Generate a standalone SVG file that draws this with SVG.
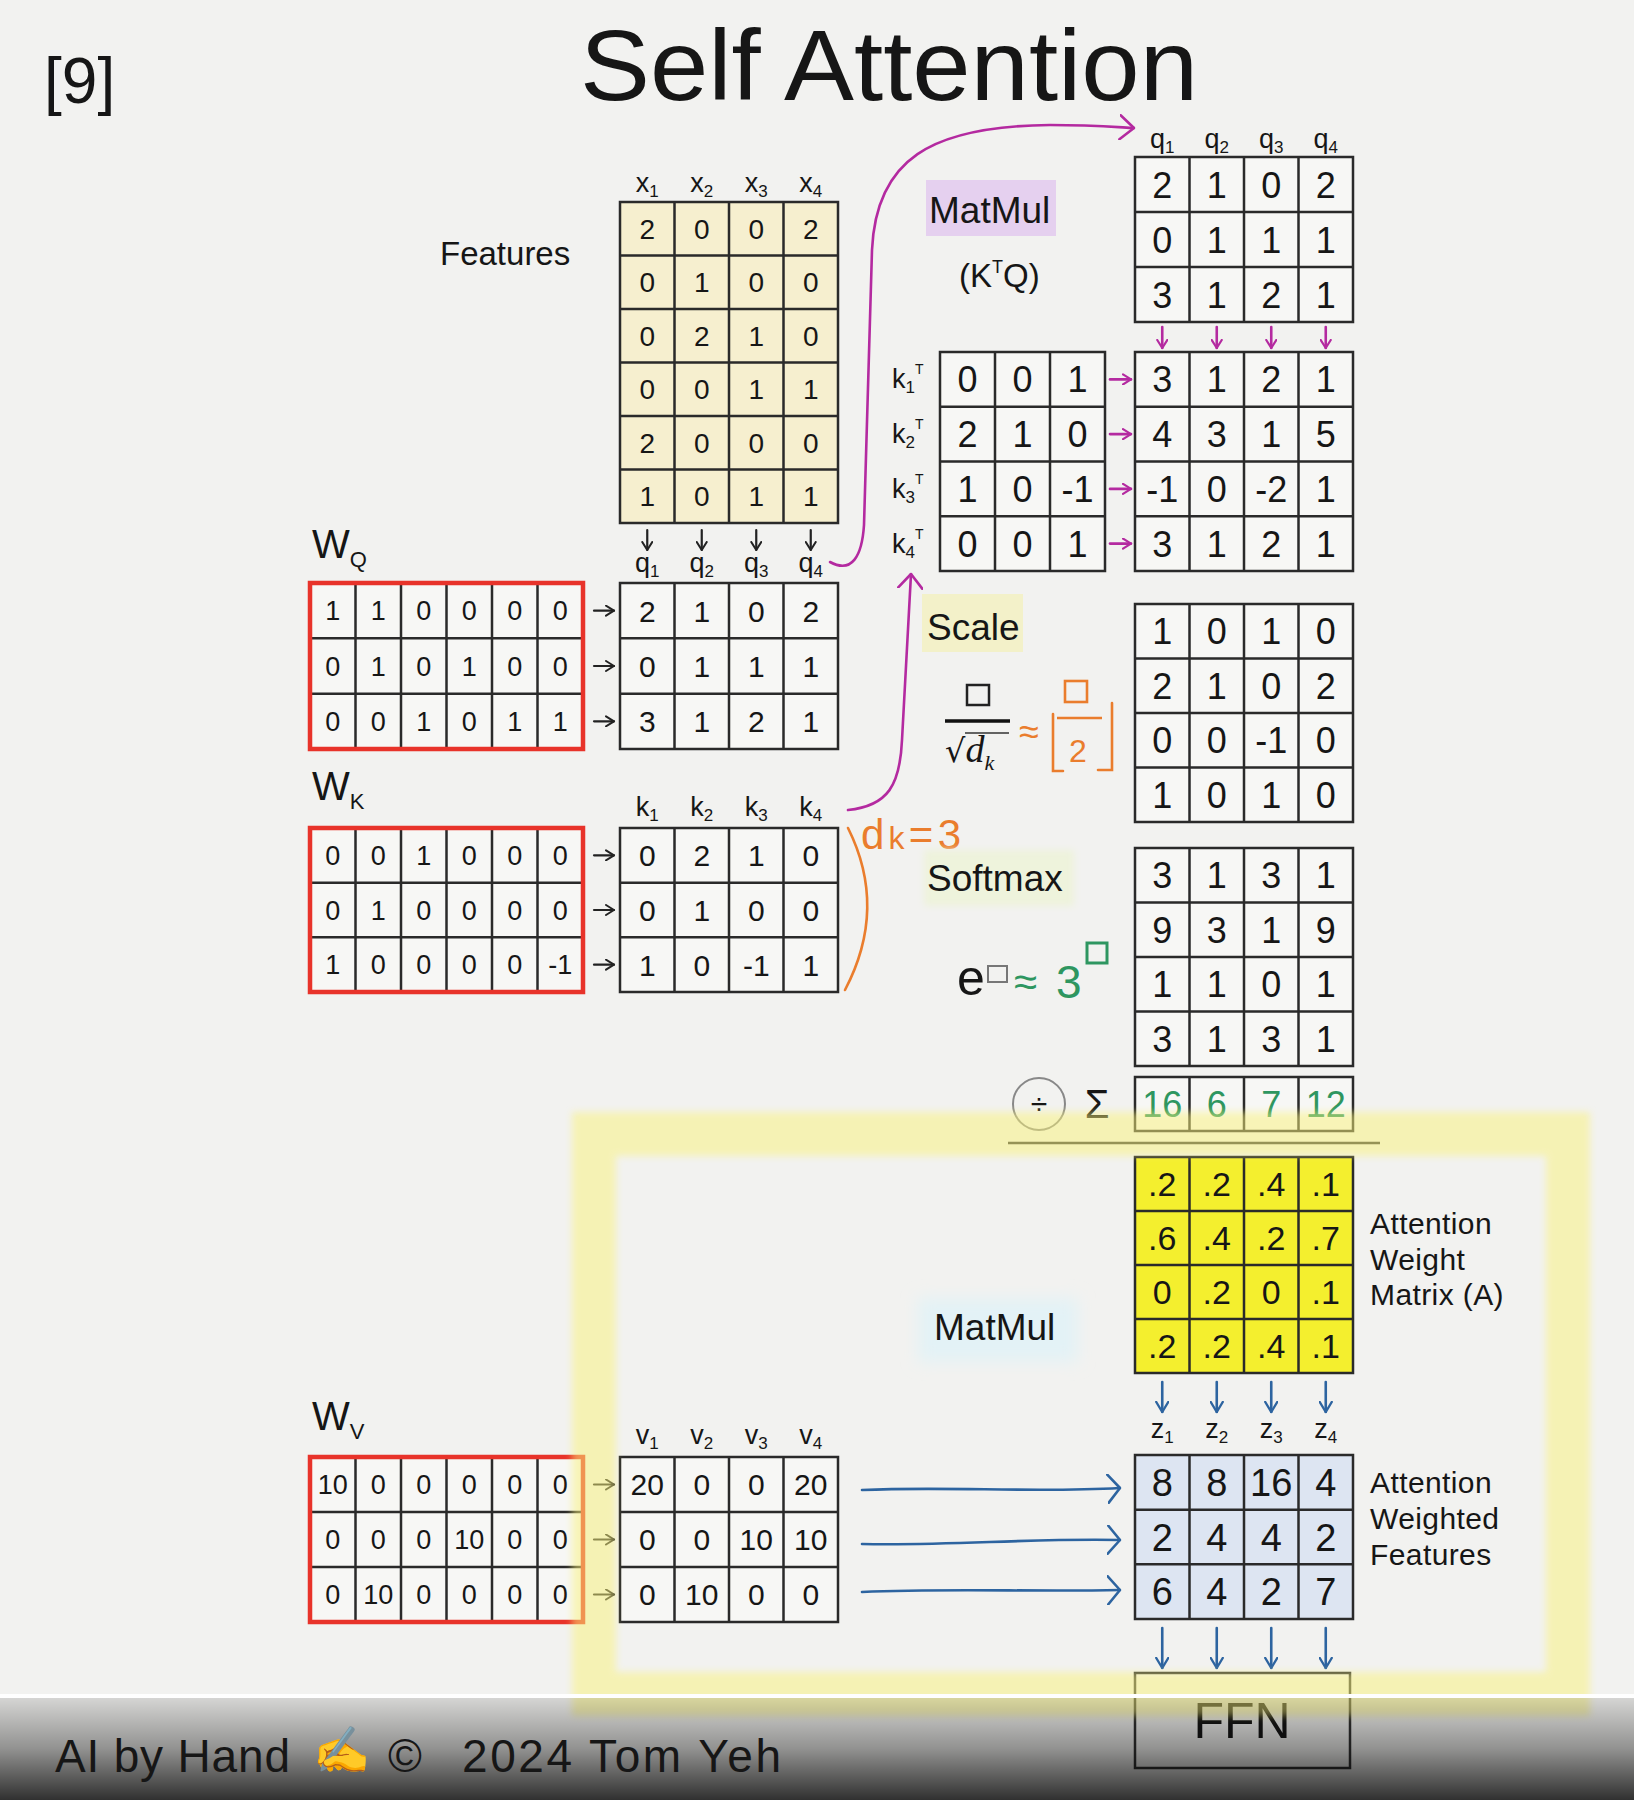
<svg xmlns="http://www.w3.org/2000/svg" width="1634" height="1800" viewBox="0 0 1634 1800">
<defs>
<style>
text{font-family:"Liberation Sans",Arial,sans-serif;fill:#161616}
.n{text-anchor:middle}
.grid{fill:none;stroke:#2a2a2a;stroke-width:2.5}
.red{fill:none;stroke:#e8332a;stroke-width:4.5}
.wcell{fill:#f7f7f5}
.p{fill:#b42aa0}.o{fill:#ea7d2d}.g{fill:#2e9660}.b{fill:#2a5a8c}
.ck{fill:none;stroke:#222;stroke-width:2.2;stroke-linecap:round}
.cp{fill:none;stroke:#b42aa0;stroke-width:2.6;stroke-linecap:round}
.cb{fill:none;stroke:#2d64a0;stroke-width:2.6;stroke-linecap:round}
.co{fill:none;stroke:#ea7d2d;stroke-width:2.6;stroke-linecap:round}
.lbl{font-size:30px;letter-spacing:0.4px}
</style>
<marker id="hk" viewBox="0 0 10 12" refX="9" refY="6" markerWidth="10" markerHeight="12" markerUnits="userSpaceOnUse" orient="auto"><path d="M1 1L9 6L1 11" fill="none" stroke="#222" stroke-width="2" stroke-linecap="round" stroke-linejoin="round"/></marker>
<marker id="hp" viewBox="0 0 10 12" refX="9" refY="6" markerWidth="10" markerHeight="12" markerUnits="userSpaceOnUse" orient="auto"><path d="M1 1L9 6L1 11" fill="none" stroke="#b42aa0" stroke-width="2.2" stroke-linecap="round" stroke-linejoin="round"/></marker>
<marker id="hpl" viewBox="0 0 16 26" refX="15" refY="13" markerWidth="16" markerHeight="26" markerUnits="userSpaceOnUse" orient="auto"><path d="M1 1L15 13L1 25" fill="none" stroke="#b42aa0" stroke-width="2.6" stroke-linecap="round" stroke-linejoin="round"/></marker>
<marker id="hb" viewBox="0 0 12 14" refX="11" refY="7" markerWidth="12" markerHeight="14" markerUnits="userSpaceOnUse" orient="auto"><path d="M1 1L11 7L1 13" fill="none" stroke="#2d64a0" stroke-width="2.4" stroke-linecap="round" stroke-linejoin="round"/></marker>
<marker id="hbl" viewBox="0 0 14 30" refX="13" refY="15" markerWidth="14" markerHeight="30" markerUnits="userSpaceOnUse" orient="auto"><path d="M1 1L13 15L1 29" fill="none" stroke="#2d64a0" stroke-width="2.6" stroke-linecap="round" stroke-linejoin="round"/></marker>
<filter id="soft" x="-10%" y="-10%" width="120%" height="120%"><feGaussianBlur stdDeviation="3.5"/></filter>
<filter id="softer" x="-30%" y="-30%" width="160%" height="160%"><feGaussianBlur stdDeviation="8"/></filter>
<linearGradient id="bar" x1="0" y1="0" x2="0" y2="1">
<stop offset="0" stop-color="#000" stop-opacity="0.12"/>
<stop offset="0.5" stop-color="#000" stop-opacity="0.4"/>
<stop offset="1" stop-color="#000" stop-opacity="0.8"/>
</linearGradient>
</defs>

<rect width="1634" height="1800" fill="#f2f2f0"/>

<g id="title">
<text x="889" y="100" class="n" font-size="100" textLength="618" lengthAdjust="spacingAndGlyphs">Self Attention</text>
<text x="44" y="103" font-size="64">[9]</text>
</g>

<!-- Features -->
<g id="features">
<text x="440" y="265" font-size="33">Features</text>
<rect x="620" y="202" width="218" height="321" fill="#f6efcf"/>
<path class="grid" d="M620 202h218v321h-218zM674.5 202V523M729 202V523M783.5 202V523M620 255.5H838M620 309H838M620 362.5H838M620 416H838M620 469.5H838"/>
<g class="n" font-size="28">
<text y="238.75"><tspan x="647.25">2</tspan><tspan x="701.75">0</tspan><tspan x="756.25">0</tspan><tspan x="810.75">2</tspan></text>
<text y="292.25"><tspan x="647.25">0</tspan><tspan x="701.75">1</tspan><tspan x="756.25">0</tspan><tspan x="810.75">0</tspan></text>
<text y="345.75"><tspan x="647.25">0</tspan><tspan x="701.75">2</tspan><tspan x="756.25">1</tspan><tspan x="810.75">0</tspan></text>
<text y="399.25"><tspan x="647.25">0</tspan><tspan x="701.75">0</tspan><tspan x="756.25">1</tspan><tspan x="810.75">1</tspan></text>
<text y="452.75"><tspan x="647.25">2</tspan><tspan x="701.75">0</tspan><tspan x="756.25">0</tspan><tspan x="810.75">0</tspan></text>
<text y="506.25"><tspan x="647.25">1</tspan><tspan x="701.75">0</tspan><tspan x="756.25">1</tspan><tspan x="810.75">1</tspan></text>
</g>
<g class="n" font-size="27">
<text x="647.25" y="192">x<tspan font-size="17" dy="5">1</tspan></text>
<text x="701.75" y="192">x<tspan font-size="17" dy="5">2</tspan></text>
<text x="756.25" y="192">x<tspan font-size="17" dy="5">3</tspan></text>
<text x="810.75" y="192">x<tspan font-size="17" dy="5">4</tspan></text>
</g>
</g>

<!-- W_Q -->
<g id="wq">
<text x="312" y="558" font-size="40">W<tspan font-size="22" dy="9">Q</tspan></text>
<rect class="wcell" x="310" y="583" width="273" height="166"/>
<path class="grid" d="M355.5 583V749M401 583V749M446.5 583V749M492 583V749M537.5 583V749M310 638.3H583M310 693.7H583"/>
<rect class="red" x="310" y="583" width="273" height="166"/>
<g class="n" font-size="27">
<text y="620.4"><tspan x="332.75">1</tspan><tspan x="378.25">1</tspan><tspan x="423.75">0</tspan><tspan x="469.25">0</tspan><tspan x="514.75">0</tspan><tspan x="560.25">0</tspan></text>
<text y="675.7"><tspan x="332.75">0</tspan><tspan x="378.25">1</tspan><tspan x="423.75">0</tspan><tspan x="469.25">1</tspan><tspan x="514.75">0</tspan><tspan x="560.25">0</tspan></text>
<text y="731"><tspan x="332.75">0</tspan><tspan x="378.25">0</tspan><tspan x="423.75">1</tspan><tspan x="469.25">0</tspan><tspan x="514.75">1</tspan><tspan x="560.25">1</tspan></text>
</g>
</g>

<!-- Q -->
<g id="q">
<rect class="wcell" x="620" y="583" width="218" height="166"/>
<path class="grid" d="M620 583h218v166h-218zM674.5 583V749M729 583V749M783.5 583V749M620 638.3H838M620 693.7H838"/>
<g class="n" font-size="30">
<text y="621.5"><tspan x="647.25">2</tspan><tspan x="701.75">1</tspan><tspan x="756.25">0</tspan><tspan x="810.75">2</tspan></text>
<text y="676.8"><tspan x="647.25">0</tspan><tspan x="701.75">1</tspan><tspan x="756.25">1</tspan><tspan x="810.75">1</tspan></text>
<text y="732.1"><tspan x="647.25">3</tspan><tspan x="701.75">1</tspan><tspan x="756.25">2</tspan><tspan x="810.75">1</tspan></text>
</g>
<g class="n" font-size="27">
<text x="647.25" y="572">q<tspan font-size="17" dy="5">1</tspan></text>
<text x="701.75" y="572">q<tspan font-size="17" dy="5">2</tspan></text>
<text x="756.25" y="572">q<tspan font-size="17" dy="5">3</tspan></text>
<text x="810.75" y="572">q<tspan font-size="17" dy="5">4</tspan></text>
</g>
</g>

<!-- W_K -->
<g id="wk">
<text x="312" y="800" font-size="40">W<tspan font-size="22" dy="9">K</tspan></text>
<rect class="wcell" x="310" y="828" width="273" height="164"/>
<path class="grid" d="M355.5 828V992M401 828V992M446.5 828V992M492 828V992M537.5 828V992M310 882.7H583M310 937.3H583"/>
<rect class="red" x="310" y="828" width="273" height="164"/>
<g class="n" font-size="27">
<text y="865"><tspan x="332.75">0</tspan><tspan x="378.25">0</tspan><tspan x="423.75">1</tspan><tspan x="469.25">0</tspan><tspan x="514.75">0</tspan><tspan x="560.25">0</tspan></text>
<text y="919.7"><tspan x="332.75">0</tspan><tspan x="378.25">1</tspan><tspan x="423.75">0</tspan><tspan x="469.25">0</tspan><tspan x="514.75">0</tspan><tspan x="560.25">0</tspan></text>
<text y="974.4"><tspan x="332.75">1</tspan><tspan x="378.25">0</tspan><tspan x="423.75">0</tspan><tspan x="469.25">0</tspan><tspan x="514.75">0</tspan><tspan x="560.25">-1</tspan></text>
</g>
</g>

<!-- K -->
<g id="k">
<rect class="wcell" x="620" y="828" width="218" height="164"/>
<path class="grid" d="M620 828h218v164h-218zM674.5 828V992M729 828V992M783.5 828V992M620 882.7H838M620 937.3H838"/>
<g class="n" font-size="30">
<text y="866.1"><tspan x="647.25">0</tspan><tspan x="701.75">2</tspan><tspan x="756.25">1</tspan><tspan x="810.75">0</tspan></text>
<text y="920.8"><tspan x="647.25">0</tspan><tspan x="701.75">1</tspan><tspan x="756.25">0</tspan><tspan x="810.75">0</tspan></text>
<text y="975.5"><tspan x="647.25">1</tspan><tspan x="701.75">0</tspan><tspan x="756.25">-1</tspan><tspan x="810.75">1</tspan></text>
</g>
<g class="n" font-size="27">
<text x="647.25" y="816">k<tspan font-size="17" dy="5">1</tspan></text>
<text x="701.75" y="816">k<tspan font-size="17" dy="5">2</tspan></text>
<text x="756.25" y="816">k<tspan font-size="17" dy="5">3</tspan></text>
<text x="810.75" y="816">k<tspan font-size="17" dy="5">4</tspan></text>
</g>
</g>

<!-- W_V -->
<g id="wv">
<text x="312" y="1430" font-size="40">W<tspan font-size="22" dy="9">V</tspan></text>
<rect class="wcell" x="310" y="1457" width="273" height="165"/>
<path class="grid" d="M355.5 1457V1622M401 1457V1622M446.5 1457V1622M492 1457V1622M537.5 1457V1622M310 1512H583M310 1567H583"/>
<rect class="red" x="310" y="1457" width="273" height="165"/>
<g class="n" font-size="27">
<text y="1494.2"><tspan x="332.75">10</tspan><tspan x="378.25">0</tspan><tspan x="423.75">0</tspan><tspan x="469.25">0</tspan><tspan x="514.75">0</tspan><tspan x="560.25">0</tspan></text>
<text y="1549.2"><tspan x="332.75">0</tspan><tspan x="378.25">0</tspan><tspan x="423.75">0</tspan><tspan x="469.25">10</tspan><tspan x="514.75">0</tspan><tspan x="560.25">0</tspan></text>
<text y="1604.2"><tspan x="332.75">0</tspan><tspan x="378.25">10</tspan><tspan x="423.75">0</tspan><tspan x="469.25">0</tspan><tspan x="514.75">0</tspan><tspan x="560.25">0</tspan></text>
</g>
</g>

<!-- V -->
<g id="v">
<rect class="wcell" x="620" y="1457" width="218" height="165"/>
<path class="grid" d="M620 1457h218v165h-218zM674.5 1457V1622M729 1457V1622M783.5 1457V1622M620 1512H838M620 1567H838"/>
<g class="n" font-size="30">
<text y="1495.3"><tspan x="647.25">20</tspan><tspan x="701.75">0</tspan><tspan x="756.25">0</tspan><tspan x="810.75">20</tspan></text>
<text y="1550.3"><tspan x="647.25">0</tspan><tspan x="701.75">0</tspan><tspan x="756.25">10</tspan><tspan x="810.75">10</tspan></text>
<text y="1605.3"><tspan x="647.25">0</tspan><tspan x="701.75">10</tspan><tspan x="756.25">0</tspan><tspan x="810.75">0</tspan></text>
</g>
<g class="n" font-size="27">
<text x="647.25" y="1444">v<tspan font-size="17" dy="5">1</tspan></text>
<text x="701.75" y="1444">v<tspan font-size="17" dy="5">2</tspan></text>
<text x="756.25" y="1444">v<tspan font-size="17" dy="5">3</tspan></text>
<text x="810.75" y="1444">v<tspan font-size="17" dy="5">4</tspan></text>
</g>
</g>

<!-- MatMul label (top) -->
<g id="matmul-top">
<rect x="926" y="180" width="130" height="56" fill="#e5d0ef"/>
<text x="929" y="223" font-size="37">MatMul</text>
<text x="959" y="287" font-size="33">(K<tspan font-size="18" dy="-14">T</tspan><tspan dy="14">Q)</tspan></text>
</g>

<!-- Q on top right -->
<g id="q-top">
<rect class="wcell" x="1135" y="157" width="218" height="165"/>
<path class="grid" d="M1135 157h218v165h-218zM1189.5 157V322M1244 157V322M1298.5 157V322M1135 212H1353M1135 267H1353"/>
<g class="n p" font-size="36">
<text y="197.5"><tspan x="1162.25">2</tspan><tspan x="1216.75">1</tspan><tspan x="1271.25">0</tspan><tspan x="1325.75">2</tspan></text>
<text y="252.5"><tspan x="1162.25">0</tspan><tspan x="1216.75">1</tspan><tspan x="1271.25">1</tspan><tspan x="1325.75">1</tspan></text>
<text y="307.5"><tspan x="1162.25">3</tspan><tspan x="1216.75">1</tspan><tspan x="1271.25">2</tspan><tspan x="1325.75">1</tspan></text>
</g>
<g class="n" font-size="27">
<text x="1162.25" y="148">q<tspan font-size="17" dy="5">1</tspan></text>
<text x="1216.75" y="148">q<tspan font-size="17" dy="5">2</tspan></text>
<text x="1271.25" y="148">q<tspan font-size="17" dy="5">3</tspan></text>
<text x="1325.75" y="148">q<tspan font-size="17" dy="5">4</tspan></text>
</g>
</g>

<!-- K transpose -->
<g id="kt">
<rect class="wcell" x="940" y="352" width="165" height="219"/>
<path class="grid" d="M940 352h165v219h-165zM995 352V571M1050 352V571M940 406.75H1105M940 461.5H1105M940 516.25H1105"/>
<g class="n p" font-size="36">
<text y="392.4"><tspan x="967.5">0</tspan><tspan x="1022.5">0</tspan><tspan x="1077.5">1</tspan></text>
<text y="447.1"><tspan x="967.5">2</tspan><tspan x="1022.5">1</tspan><tspan x="1077.5">0</tspan></text>
<text y="501.9"><tspan x="967.5">1</tspan><tspan x="1022.5">0</tspan><tspan x="1077.5">-1</tspan></text>
<text y="556.6"><tspan x="967.5">0</tspan><tspan x="1022.5">0</tspan><tspan x="1077.5">1</tspan></text>
</g>
<g font-size="27">
<text x="892" y="388">k<tspan font-size="17" dy="5">1</tspan><tspan font-size="14" dy="-19">T</tspan></text>
<text x="892" y="443">k<tspan font-size="17" dy="5">2</tspan><tspan font-size="14" dy="-19">T</tspan></text>
<text x="892" y="498">k<tspan font-size="17" dy="5">3</tspan><tspan font-size="14" dy="-19">T</tspan></text>
<text x="892" y="553">k<tspan font-size="17" dy="5">4</tspan><tspan font-size="14" dy="-19">T</tspan></text>
</g>
</g>

<!-- K^T Q -->
<g id="ktq">
<rect class="wcell" x="1135" y="352" width="218" height="219"/>
<path class="grid" d="M1135 352h218v219h-218zM1189.5 352V571M1244 352V571M1298.5 352V571M1135 406.75H1353M1135 461.5H1353M1135 516.25H1353"/>
<g class="n p" font-size="36">
<text y="392.4"><tspan x="1162.25">3</tspan><tspan x="1216.75">1</tspan><tspan x="1271.25">2</tspan><tspan x="1325.75">1</tspan></text>
<text y="447.1"><tspan x="1162.25">4</tspan><tspan x="1216.75">3</tspan><tspan x="1271.25">1</tspan><tspan x="1325.75">5</tspan></text>
<text y="501.9"><tspan x="1162.25">-1</tspan><tspan x="1216.75">0</tspan><tspan x="1271.25">-2</tspan><tspan x="1325.75">1</tspan></text>
<text y="556.6"><tspan x="1162.25">3</tspan><tspan x="1216.75">1</tspan><tspan x="1271.25">2</tspan><tspan x="1325.75">1</tspan></text>
</g>
</g>

<!-- Scale -->
<g id="scale-label">
<rect x="922" y="594" width="101" height="58" fill="#f3f1c9"/>
<text x="927" y="640" font-size="37">Scale</text>
<rect x="967" y="685" width="22" height="20" fill="none" stroke="#222" stroke-width="2.5"/>
<line x1="945" y1="721" x2="1010" y2="721" stroke="#111" stroke-width="3.5"/>
<line x1="965" y1="733" x2="1009" y2="733" stroke="#333" stroke-width="1.5"/>
<text x="945" y="762" font-size="32"><tspan font-family="DejaVu Sans">√</tspan><tspan font-family="Liberation Serif" font-style="italic" font-size="38">d</tspan><tspan font-family="Liberation Serif" font-style="italic" font-size="22" dy="8">k</tspan></text>
<text x="1019" y="744" font-size="36" class="o">≈</text>
<path class="co" d="M1053 714V771H1063"/>
<rect x="1065" y="681" width="22" height="21" fill="none" stroke="#ea7d2d" stroke-width="2.6"/>
<line x1="1057" y1="718" x2="1102" y2="718" stroke="#ea7d2d" stroke-width="2.4"/>
<text x="1078" y="762" font-size="32" class="n o">2</text>
<path class="co" d="M1112 703V770H1098"/>
</g>

<g id="scale">
<rect class="wcell" x="1135" y="604" width="218" height="218"/>
<path class="grid" d="M1135 604h218v218h-218zM1189.5 604V822M1244 604V822M1298.5 604V822M1135 658.5H1353M1135 713H1353M1135 767.5H1353"/>
<g class="n o" font-size="36">
<text y="644.25"><tspan x="1162.25">1</tspan><tspan x="1216.75">0</tspan><tspan x="1271.25">1</tspan><tspan x="1325.75">0</tspan></text>
<text y="698.75"><tspan x="1162.25">2</tspan><tspan x="1216.75">1</tspan><tspan x="1271.25">0</tspan><tspan x="1325.75">2</tspan></text>
<text y="753.25"><tspan x="1162.25">0</tspan><tspan x="1216.75">0</tspan><tspan x="1271.25">-1</tspan><tspan x="1325.75">0</tspan></text>
<text y="807.75"><tspan x="1162.25">1</tspan><tspan x="1216.75">0</tspan><tspan x="1271.25">1</tspan><tspan x="1325.75">0</tspan></text>
</g>
</g>

<!-- dk annotation -->
<g id="dk">
<path class="co" d="M848 828Q888 908 845 990"/>
<text x="861" y="849" class="o" font-size="42" textLength="100" lengthAdjust="spacing">d<tspan font-size="32">k</tspan>=3</text>
</g>

<!-- Softmax -->
<g id="softmax-label">
<rect x="924" y="850" width="150" height="56" fill="#eef3dc" filter="url(#soft)"/>
<text x="927" y="891" font-size="37">Softmax</text>
<text x="957" y="995" font-size="50">e</text>
<rect x="988" y="966" width="19" height="16" fill="none" stroke="#777" stroke-width="2"/>
<text x="1014" y="996" font-size="42" class="g">≈</text>
<text x="1056" y="998" font-size="46" class="g">3</text>
<rect x="1087" y="943" width="20" height="20" fill="none" stroke="#2e9660" stroke-width="3"/>
</g>

<g id="softmax">
<rect class="wcell" x="1135" y="848" width="218" height="218"/>
<path class="grid" d="M1135 848h218v218h-218zM1189.5 848V1066M1244 848V1066M1298.5 848V1066M1135 902.5H1353M1135 957H1353M1135 1011.5H1353"/>
<g class="n g" font-size="36">
<text y="888.25"><tspan x="1162.25">3</tspan><tspan x="1216.75">1</tspan><tspan x="1271.25">3</tspan><tspan x="1325.75">1</tspan></text>
<text y="942.75"><tspan x="1162.25">9</tspan><tspan x="1216.75">3</tspan><tspan x="1271.25">1</tspan><tspan x="1325.75">9</tspan></text>
<text y="997.25"><tspan x="1162.25">1</tspan><tspan x="1216.75">1</tspan><tspan x="1271.25">0</tspan><tspan x="1325.75">1</tspan></text>
<text y="1051.75"><tspan x="1162.25">3</tspan><tspan x="1216.75">1</tspan><tspan x="1271.25">3</tspan><tspan x="1325.75">1</tspan></text>
</g>
</g>

<!-- Sum -->
<g id="sum">
<circle cx="1039" cy="1104" r="26" fill="none" stroke="#888" stroke-width="2"/>
<text x="1039" y="1114" class="n" font-size="30" fill="#555">÷</text>
<text x="1097" y="1118" class="n" font-size="40">Σ</text>
<rect class="wcell" x="1135" y="1077" width="218" height="54"/>
<path class="grid" d="M1135 1077h218v54h-218zM1189.5 1077V1131M1244 1077V1131M1298.5 1077V1131"/>
<text y="1117" class="n g" font-size="36"><tspan x="1162.25">16</tspan><tspan x="1216.75">6</tspan><tspan x="1271.25">7</tspan><tspan x="1325.75">12</tspan></text>
<line x1="1008" y1="1143" x2="1380" y2="1143" stroke="#333" stroke-width="2.5"/>
</g>

<!-- Attention weight matrix -->
<g id="attention-weights">
<rect x="1135" y="1157" width="218" height="216" fill="#f4ef2e"/>
<path class="grid" d="M1135 1157h218v216h-218zM1189.5 1157V1373M1244 1157V1373M1298.5 1157V1373M1135 1211H1353M1135 1265H1353M1135 1319H1353"/>
<g class="n" font-size="34">
<text y="1196.2"><tspan x="1162.25">.2</tspan><tspan x="1216.75">.2</tspan><tspan x="1271.25">.4</tspan><tspan x="1325.75">.1</tspan></text>
<text y="1250.2"><tspan x="1162.25">.6</tspan><tspan x="1216.75">.4</tspan><tspan x="1271.25">.2</tspan><tspan x="1325.75">.7</tspan></text>
<text y="1304.2"><tspan x="1162.25">0</tspan><tspan x="1216.75">.2</tspan><tspan x="1271.25">0</tspan><tspan x="1325.75">.1</tspan></text>
<text y="1358.2"><tspan x="1162.25">.2</tspan><tspan x="1216.75">.2</tspan><tspan x="1271.25">.4</tspan><tspan x="1325.75">.1</tspan></text>
</g>
<text x="1370" y="1234" class="lbl">Attention</text>
<text x="1370" y="1270" class="lbl">Weight</text>
<text x="1370" y="1305" class="lbl">Matrix (A)</text>
</g>

<!-- MatMul label (bottom) -->
<g id="matmul-bottom">
<rect x="918" y="1298" width="160" height="64" fill="#e3f2f6" filter="url(#softer)"/>
<text x="934" y="1340" font-size="37">MatMul</text>
</g>

<!-- Z -->
<g id="z">
<rect x="1135" y="1455" width="218" height="164" fill="#dde5f2"/>
<path class="grid" d="M1135 1455h218v164h-218zM1189.5 1455V1619M1244 1455V1619M1298.5 1455V1619M1135 1509.7H1353M1135 1564.3H1353"/>
<g class="n b" font-size="38">
<text y="1496"><tspan x="1162.25">8</tspan><tspan x="1216.75">8</tspan><tspan x="1271.25">16</tspan><tspan x="1325.75">4</tspan></text>
<text y="1550.7"><tspan x="1162.25">2</tspan><tspan x="1216.75">4</tspan><tspan x="1271.25">4</tspan><tspan x="1325.75">2</tspan></text>
<text y="1605.4"><tspan x="1162.25">6</tspan><tspan x="1216.75">4</tspan><tspan x="1271.25">2</tspan><tspan x="1325.75">7</tspan></text>
</g>
<g class="n" font-size="27">
<text x="1162.25" y="1438">z<tspan font-size="17" dy="5">1</tspan></text>
<text x="1216.75" y="1438">z<tspan font-size="17" dy="5">2</tspan></text>
<text x="1271.25" y="1438">z<tspan font-size="17" dy="5">3</tspan></text>
<text x="1325.75" y="1438">z<tspan font-size="17" dy="5">4</tspan></text>
</g>
<text x="1370" y="1493" class="lbl">Attention</text>
<text x="1370" y="1529" class="lbl">Weighted</text>
<text x="1370" y="1565" class="lbl">Features</text>
</g>

<!-- FFN -->
<g id="ffn">
<rect x="1135" y="1673" width="215" height="95" fill="none" stroke="#333" stroke-width="2.5"/>
<text x="1242" y="1738" class="n" font-size="50">FFN</text>
</g>

<!-- Connectors -->
<g id="connectors">
<path class="ck" d="M647.25 530V550" marker-end="url(#hk)"/>
<path class="ck" d="M701.75 530V550" marker-end="url(#hk)"/>
<path class="ck" d="M756.25 530V550" marker-end="url(#hk)"/>
<path class="ck" d="M810.75 530V550" marker-end="url(#hk)"/>
<path class="ck" d="M594 610.7H614" marker-end="url(#hk)"/>
<path class="ck" d="M594 666H614" marker-end="url(#hk)"/>
<path class="ck" d="M594 721.3H614" marker-end="url(#hk)"/>
<path class="ck" d="M594 855.3H614" marker-end="url(#hk)"/>
<path class="ck" d="M594 910H614" marker-end="url(#hk)"/>
<path class="ck" d="M594 964.7H614" marker-end="url(#hk)"/>
<path class="ck" d="M594 1484.5H614" marker-end="url(#hk)"/>
<path class="ck" d="M594 1539.5H614" marker-end="url(#hk)"/>
<path class="ck" d="M594 1594.5H614" marker-end="url(#hk)"/>
<path class="cp" d="M830 562C852 574 862 556 864 525L872 250C876 160 930 126 1050 125C1090 125 1115 127 1134 128" marker-end="url(#hpl)"/>
<path class="cp" d="M848 810C888 806 900 785 902 740L911 574" marker-end="url(#hpl)"/>
<path class="cp" d="M1162.25 327V348" marker-end="url(#hp)"/>
<path class="cp" d="M1216.75 327V348" marker-end="url(#hp)"/>
<path class="cp" d="M1271.25 327V348" marker-end="url(#hp)"/>
<path class="cp" d="M1325.75 327V348" marker-end="url(#hp)"/>
<path class="cp" d="M1110 379.4H1131" marker-end="url(#hp)"/>
<path class="cp" d="M1110 434.1H1131" marker-end="url(#hp)"/>
<path class="cp" d="M1110 488.9H1131" marker-end="url(#hp)"/>
<path class="cp" d="M1110 543.6H1131" marker-end="url(#hp)"/>
<path class="cb" d="M1162.25 1382V1412" marker-end="url(#hb)"/>
<path class="cb" d="M1216.75 1382V1412" marker-end="url(#hb)"/>
<path class="cb" d="M1271.25 1382V1412" marker-end="url(#hb)"/>
<path class="cb" d="M1325.75 1382V1412" marker-end="url(#hb)"/>
<path class="cb" d="M1162.25 1628V1668" marker-end="url(#hb)"/>
<path class="cb" d="M1216.75 1628V1668" marker-end="url(#hb)"/>
<path class="cb" d="M1271.25 1628V1668" marker-end="url(#hb)"/>
<path class="cb" d="M1325.75 1628V1668" marker-end="url(#hb)"/>
<path class="cb" d="M862 1490C950 1486 1030 1493 1120 1488" marker-end="url(#hbl)"/>
<path class="cb" d="M862 1544C950 1546 1030 1538 1120 1540" marker-end="url(#hbl)"/>
<path class="cb" d="M862 1592C950 1588 1030 1592 1120 1590" marker-end="url(#hbl)"/>
</g>

<!-- yellow highlight frame -->
<rect id="highlight" x="594" y="1134" width="974" height="560" fill="none" stroke="#f9f27a" stroke-width="44" opacity="0.5" filter="url(#soft)"/>

<!-- footer -->
<g id="footer">
<rect x="0" y="1698" width="1634" height="102" fill="url(#bar)"/>
<rect x="0" y="1694" width="1634" height="4" fill="#ffffff"/>
<text x="55" y="1772" font-size="46" textLength="235" lengthAdjust="spacing">AI by Hand</text>
<text x="313" y="1766" font-size="46" font-family="DejaVu Sans" fill="#d4a23c">✍</text>
<text x="388" y="1772" font-size="46">©</text>
<text x="462" y="1772" font-size="46" textLength="319" lengthAdjust="spacing">2024 Tom Yeh</text>
</g>
</svg>
